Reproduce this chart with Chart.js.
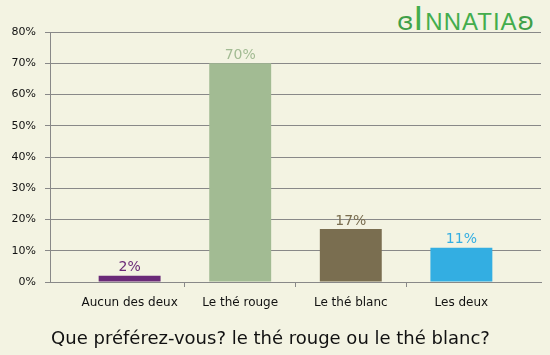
<!DOCTYPE html>
<html>
<head>
<meta charset="utf-8">
<script src="https://cdn.jsdelivr.net/npm/chart.js@4"></script>
<style>
  html, body { margin: 0; padding: 0; background: #f3f3e2; }
  #wrap { position: relative; width: 550px; height: 355px; }
  #myChart { position: absolute; left: 0; top: 0; z-index: 2; }
  #logo {
    position: absolute; left: 397px; top: 0px; height: 36px; white-space: nowrap; z-index: 1;
    font-family: "Liberation Sans", sans-serif; color: #43ad4d; font-size: 24px; letter-spacing: 1px;
    line-height: 36px;
  }
  #logo .big { font-size: 35px; letter-spacing: 2px; font-weight: normal; }
  #logo .orn { font-family: "DejaVu Sans"; font-size: 25px; color: #3f9f48; letter-spacing: 0; }
</style>
</head>
<body>
<div id="wrap">
  <div id="logo"><span class="orn">ɞ</span><span class="big">I</span>NNATIA<span class="orn">ʚ</span></div>
  <canvas id="myChart" width="550" height="355"></canvas>
</div>
<script>
// categories and answers (percent)
var labels = ["Aucun des deux", "Le thé rouge", "Le thé blanc", "Les deux"];
var values = [2, 70, 17, 11];
var colors = ["#6a2a78", "#a2bb93", "#7a6e50", "#33aee2"];
var yTicks = [0, 10, 20, 30, 40, 50, 60, 70, 80];

var chartElement = document.getElementById("myChart").getContext('2d');

// write the percentage above each bar, in the bar's colour
var barLabels = {
  id: 'barLabels',
  afterDatasetsDraw: function (chart) {
    var ctx = chart.ctx;
    var meta = chart.getDatasetMeta(0);
    ctx.save();
    ctx.font = '14px "DejaVu Sans"';
    ctx.textAlign = 'center';
    ctx.textBaseline = 'bottom';
    meta.data.forEach(function (bar, i) {
      ctx.fillStyle = colors[i];
      ctx.fillText(values[i] + '%', bar.x, bar.y - 1);
    });
    ctx.restore();
  }
};

new Chart(chartElement, {
  type: 'bar',
  data: {
    labels: labels,
    datasets: [{
      data: values,
      backgroundColor: colors,
      barPercentage: 0.56,
      categoryPercentage: 1
    }]
  },
  plugins: [barLabels],
  options: {
    responsive: false,
    animation: false,
    layout: { padding: { left: 0, right: 9, top: 32, bottom: 5 } },
    plugins: {
      legend: { display: false },
      tooltip: { enabled: false },
      title: {
        display: true,
        position: 'bottom',
        text: 'Que préférez-vous? le thé rouge ou le thé blanc?',
        color: '#111',
        font: { family: 'DejaVu Sans', size: 18, weight: 'normal' },
        padding: { top: 9, bottom: 0 }
      }
    },
    scales: {
      x: {
        // leave some empty room at both ends of the axis, like the original
        afterBuildTicks: function (axis) {
          var pad = 0.22;
          axis._startValue = -0.5 - pad;
          axis._valueRange = labels.length + 2 * pad;
        },
        grid: {
          display: true,
          drawOnChartArea: false,
          offset: true,
          tickLength: 5,
          color: function (c) {
            return (c.index > 0 && c.index < labels.length) ? '#888' : 'rgba(0,0,0,0)';
          }
        },
        border: { color: '#888' },
        ticks: { color: '#111', font: { family: 'DejaVu Sans', size: 12 }, padding: 9 }
      },
      y: {
        min: 0,
        max: 80,
        afterBuildTicks: function (axis) {
          axis.ticks = yTicks.map(function (v) { return { value: v }; });
        },
        afterFit: function (axis) { axis.width = 50; },
        grid: { color: '#888', tickLength: 5 },
        border: { color: '#888' },
        ticks: {
          color: '#111',
          font: { family: 'DejaVu Sans', size: 11 },
          padding: 9,
          callback: function (v) { return v + '%'; }
        }
      }
    }
  }
});
</script>
</body>
</html>
